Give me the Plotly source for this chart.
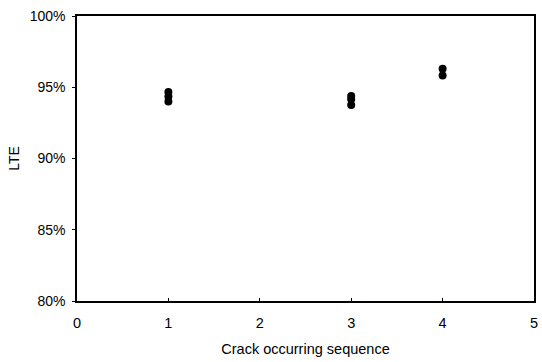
import plotly.graph_objects as go

crack_sequence = [1, 1, 1, 3, 3, 3, 4, 4]
lte_values = [0.9467, 0.9435, 0.9400, 0.9438, 0.9415, 0.9375, 0.9630, 0.9583]

x_ticks = [0, 1, 2, 3, 4, 5]
y_ticks = [0.80, 0.85, 0.90, 0.95, 1.00]

fig = go.Figure()
fig.add_trace(go.Scatter(
    x=crack_sequence, y=lte_values, mode="markers",
    marker=dict(color="black", size=8, symbol="circle"),
    showlegend=False,
))

font = dict(family="Liberation Sans, Arial, sans-serif", size=14, color="black")

fig.update_layout(
    width=542, height=362,
    margin=dict(l=77, r=4, t=16, b=61),
    paper_bgcolor="white", plot_bgcolor="white",
    font=font,
    xaxis=dict(
        range=[0, 5], tickvals=x_ticks, ticktext=[str(v) for v in x_ticks],
        showgrid=False, zeroline=False, showline=True, linecolor="black", linewidth=1.5,
        mirror=True, ticks="inside", ticklen=3, tickcolor="black",
        ticklabelstandoff=8,
        title=dict(text="Crack occurring sequence", standoff=14, font=dict(size=14.5)),
        tickfont=dict(size=14.5),
    ),
    yaxis=dict(
        range=[0.80, 1.00], tickvals=y_ticks, tickformat=".0%",
        showgrid=False, zeroline=False, showline=True, linecolor="black", linewidth=1.5,
        mirror=True, ticks="outside", ticklen=3, tickcolor="black",
        ticklabelstandoff=4,
        title=dict(text="LTE", standoff=7, font=dict(size=14)),
        tickfont=dict(size=14),
    ),
)

fig.write_html("out.html")
